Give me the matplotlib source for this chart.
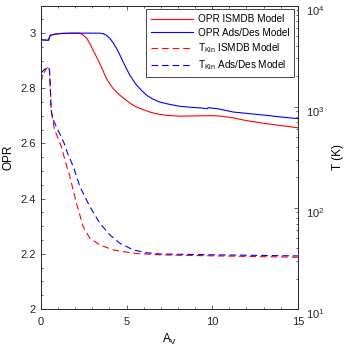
import numpy as np
import matplotlib
matplotlib.use('Agg')
import matplotlib.pyplot as plt
from matplotlib.ticker import MultipleLocator, LogLocator, NullFormatter
from matplotlib.transforms import ScaledTranslation

plt.rcParams['font.family'] = ['Liberation Sans', 'DejaVu Sans']
plt.rcParams['mathtext.fontset'] = 'custom'
plt.rcParams['mathtext.rm'] = 'Liberation Sans'
plt.rcParams['mathtext.it'] = 'Liberation Sans'

# OPR curves (left axis)
av_opr_ismdb = [0, 0.45, 0.5, 0.55, 0.8, 1.2, 2.0, 2.28, 2.5, 2.67, 2.86, 3.05, 3.25, 3.44, 3.64,
                3.83, 4.03, 4.22, 4.42, 4.61, 5.0, 5.3, 5.59, 6.0, 6.36, 6.8, 7.34, 8.11, 9.0,
                10.0, 10.5, 11.23, 11.9, 13.0, 14.0, 15]
opr_ismdb = [2.976, 2.974, 2.985, 2.992, 2.996, 2.999, 3.0, 2.999, 2.992, 2.982, 2.962, 2.938,
             2.914, 2.890, 2.862, 2.835, 2.815, 2.799, 2.786, 2.775, 2.756, 2.742, 2.732, 2.722,
             2.714, 2.707, 2.702, 2.699, 2.700, 2.701, 2.699, 2.693, 2.684, 2.673, 2.665, 2.657]
av_opr_ads = [0, 0.45, 0.5, 0.55, 0.8, 1.2, 2.0, 3.4, 3.64, 3.83, 4.03, 4.22, 4.42, 4.61, 4.8,
              5.0, 5.2, 5.4, 5.59, 5.9, 6.17, 6.5, 6.95, 7.5, 8.11, 8.8, 9.3, 9.72, 9.76, 10.3,
              11.23, 12.2, 13.17, 14.0, 15]
opr_ads = [2.976, 2.974, 2.985, 2.992, 2.996, 2.999, 3.0, 3.0, 2.998, 2.992, 2.981, 2.965, 2.944,
           2.921, 2.896, 2.871, 2.847, 2.828, 2.811, 2.791, 2.775, 2.762, 2.750, 2.742, 2.735,
           2.731, 2.729, 2.726, 2.730, 2.726, 2.714, 2.708, 2.702, 2.696, 2.690]

# kinetic temperature curves (right axis, K)
av_t_ismdb = [0, 0.1, 0.2, 0.3, 0.42, 0.5, 0.55, 0.6, 0.7, 0.8, 1.0, 1.19, 1.3, 1.38, 1.69, 2.08,
              2.47, 2.86, 3.44, 4.22, 5.39, 6.95, 10.25, 15]
t_ismdb = [1718, 1995, 2188, 2344, 2472, 2399, 1585, 933, 741, 589, 490, 405, 348, 309, 204, 111,
           65, 50, 43, 38.4, 35.6, 34.3, 33.5, 32.5]
av_t_ads = [0, 0.1, 0.2, 0.3, 0.41, 0.5, 0.55, 0.6, 0.7, 0.99, 1.2, 1.38, 1.58, 1.89, 2.28, 2.86,
            3.44, 4.03, 4.61, 5.39, 6.17, 6.95, 10.25, 15]
t_ads = [2153, 2239, 2317, 2399, 2472, 2344, 1585, 933, 759, 589, 501, 427, 339, 257, 162, 103,
         70.5, 54, 44.7, 38.4, 36, 35, 34.3, 33.5]

fig = plt.figure(figsize=(3.46, 3.47), dpi=100)
ax = fig.add_axes([0.118, 0.1095, 0.743, 0.8745])
ax2 = ax.twinx()

l1, = ax.plot(av_opr_ismdb, opr_ismdb, color='#ff0000', lw=0.8, label='OPR ISMDB Model')
l2, = ax.plot(av_opr_ads, opr_ads, color='#0000ff', lw=0.8, label='OPR Ads/Des Model')
l3, = ax2.plot(av_t_ismdb, t_ismdb, color='#ff0000', lw=0.8, ls=(0, (6, 3.5)),
               label='T$_{\\mathrm{Kin}}$ ISMDB Model')
l4, = ax2.plot(av_t_ads, t_ads, color='#0000ff', lw=0.8, ls=(0, (6, 3.5)),
               label='T$_{\\mathrm{Kin}}$ Ads/Des Model')

ax.set_xlim(0, 15)
ax.set_ylim(2, 3.1)
ax2.set_yscale('log')
ax2.set_ylim(10, 1e4)

ax.xaxis.set_major_locator(MultipleLocator(5))
ax.xaxis.set_minor_locator(MultipleLocator(1))
ax.set_yticks([2, 2.2, 2.4, 2.6, 2.8, 3])
ax.set_yticklabels(['2', '2.2', '2.4', '2.6', '2.8', '3'])
ax.yaxis.set_minor_locator(MultipleLocator(0.05))
ax2.yaxis.set_minor_locator(LogLocator(base=10, subs=np.arange(2, 10)))
ax2.yaxis.set_minor_formatter(NullFormatter())

for a in (ax, ax2):
    a.tick_params(which='both', direction='in', labelsize=8, colors='#262626', width=0.5)
    a.tick_params(which='major', length=3)
    a.tick_params(which='minor', length=1.6)
    for s in a.spines.values():
        s.set_linewidth(0.6)
        s.set_color('#262626')
ax.tick_params(which='both', top=True)
ax.tick_params(axis='x', pad=6)

ax.set_xlabel('A$_{\\mathrm{V}}$', fontsize=8.5, labelpad=3)
ax.set_ylabel('OPR', fontsize=8.5, labelpad=4)
ax2.set_ylabel('T (K)', fontsize=8.5, labelpad=6)

leg = ax2.legend(handles=[l1, l2, l3, l4], loc='upper right', fontsize=7.2, frameon=True,
                 fancybox=False, edgecolor='#262626', framealpha=1, handlelength=4.2,
                 handletextpad=0.5, borderaxespad=0.35, labelspacing=0.35, borderpad=0.5)
leg.get_frame().set_linewidth(0.6)

# nudge the log tick labels down a little, as in the original
fig.canvas.draw()
for t in ax2.yaxis.get_major_ticks():
    t.label2.set_transform(t.label2.get_transform() +
                           ScaledTranslation(2 / 72, -3 / 72, fig.dpi_scale_trans))

fig.savefig('out.png', dpi=100)
